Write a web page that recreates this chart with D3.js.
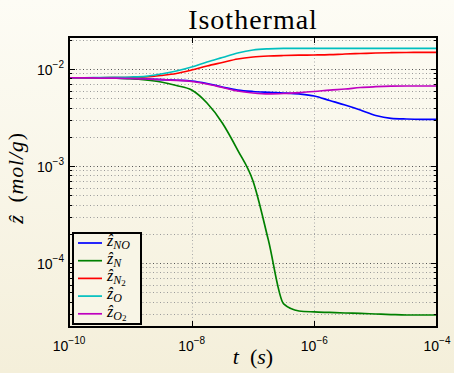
<!DOCTYPE html>
<html>
<head>
<meta charset="utf-8">
<script src="https://cdn.jsdelivr.net/npm/d3@7/dist/d3.min.js"></script>
<style>
  body { margin: 0; }
  svg { display: block; }
</style>
</head>
<body>
<div id="chart"></div>
<script>
// time samples, as powers of ten (s)
const tExp = [-10, -9.75, -9.5, -9.25, -9, -8.75, -8.5, -8.25, -8, -7.75, -7.5, -7.25,
              -7, -6.75, -6.5, -6.25, -6, -5.75, -5.5, -5.25, -5, -4.75, -4.5, -4.25, -4];

// mass-specific concentrations (mol/g)
const zNO = [8.13e-3, 8.11e-3, 8.07e-3, 8.04e-3, 7.98e-3, 7.89e-3, 7.79e-3, 7.66e-3, 7.52e-3, 7.09e-3, 6.52e-3, 6.07e-3,
             5.86e-3, 5.75e-3, 5.66e-3, 5.53e-3, 5.27e-3, 4.73e-3, 4.25e-3, 3.78e-3, 3.32e-3, 3.10e-3, 3.05e-3, 3.03e-3, 3.03e-3];
const zN  = [8.13e-3, 8.13e-3, 8.11e-3, 8.04e-3, 7.93e-3, 7.70e-3, 7.34e-3, 6.76e-3, 6.07e-3, 4.46e-3, 2.78e-3, 1.46e-3,
             7.0e-4, 1.73e-4, 3.78e-5, 3.20e-5, 3.13e-5, 3.09e-5, 3.05e-5, 3.02e-5, 2.98e-5, 2.94e-5, 2.91e-5, 2.91e-5, 2.91e-5];
const zN2 = [8.13e-3, 8.13e-3, 8.13e-3, 8.15e-3, 8.17e-3, 8.27e-3, 8.57e-3, 8.99e-3, 9.76e-3, 1.074e-2, 1.167e-2, 1.268e-2,
             1.330e-2, 1.362e-2, 1.378e-2, 1.388e-2, 1.394e-2, 1.404e-2, 1.428e-2, 1.445e-2, 1.462e-2, 1.472e-2, 1.479e-2, 1.482e-2, 1.486e-2];
const zO  = [8.13e-3, 8.13e-3, 8.15e-3, 8.20e-3, 8.27e-3, 8.41e-3, 8.88e-3, 9.54e-3, 1.048e-2, 1.181e-2, 1.314e-2, 1.462e-2,
             1.571e-2, 1.615e-2, 1.631e-2, 1.634e-2, 1.635e-2, 1.635e-2, 1.635e-2, 1.635e-2, 1.635e-2, 1.635e-2, 1.635e-2, 1.635e-2, 1.635e-2];
const zO2 = [8.13e-3, 8.11e-3, 8.07e-3, 8.04e-3, 7.98e-3, 7.89e-3, 7.79e-3, 7.65e-3, 7.43e-3, 7.00e-3, 6.45e-3, 5.93e-3,
             5.66e-3, 5.53e-3, 5.59e-3, 5.72e-3, 5.86e-3, 6.07e-3, 6.22e-3, 6.45e-3, 6.57e-3, 6.65e-3, 6.68e-3, 6.68e-3, 6.68e-3];

const seriesNames = ["NO", "N", "N2", "O", "O2"];
const seriesColors = ["#0000ff", "#008000", "#ff0000", "#00bfbf", "#bf00bf"];
const seriesValues = [zNO, zN, zN2, zO, zO2];

const xTickExp = [-10, -8, -6, -4];
const yTickExp = [-4, -3, -2];

const W = 454, H = 373;
const margin = { top: 37, right: 17, bottom: 46, left: 69 },
  width = W - margin.left - margin.right,
  height = H - margin.top - margin.bottom;

const root = d3.select("#chart").append("svg")
  .attr("width", W)
  .attr("height", H);

const grad = root.append("defs").append("linearGradient")
  .attr("id", "bg").attr("x1", 0).attr("y1", 0).attr("x2", 0).attr("y2", 1);
grad.append("stop").attr("offset", "0%").attr("stop-color", "#fdfcf5");
grad.append("stop").attr("offset", "100%").attr("stop-color", "#f4efda");
root.append("rect").attr("width", W).attr("height", H).attr("fill", "url(#bg)");

const svg = root.append("g")
  .attr("transform", "translate(" + margin.left + "," + margin.top + ")");

const x = d3.scaleLog()
  .domain([1e-10, 1e-4])
  .range([0, width]);

const y = d3.scaleLog()
  .domain([Math.pow(10, -4.66), Math.pow(10, -1.67)])
  .range([height, 0]);

// horizontal grid (every minor decade step)
const yGrid = [];
for (let k = -5; k <= -2; k++) {
  for (let m = 1; m <= 9; m++) {
    const v = m * Math.pow(10, k);
    if (v >= y.domain()[0] && v <= y.domain()[1]) yGrid.push({ v: v, major: m === 1 });
  }
}
svg.append("g").selectAll("line")
  .data(yGrid)
  .enter().append("line")
  .attr("x1", 0).attr("x2", width)
  .attr("y1", d => Math.round(y(d.v)) + 0.5)
  .attr("y2", d => Math.round(y(d.v)) + 0.5)
  .attr("stroke", d => d.major ? "#555" : "#9a9a9a")
  .attr("stroke-width", 1)
  .attr("stroke-dasharray", "1,2.5");

// vertical grid at major x ticks
svg.append("g").selectAll("line")
  .data(xTickExp.slice(1, -1))
  .enter().append("line")
  .attr("x1", d => Math.round(x(Math.pow(10, d))) + 0.5)
  .attr("x2", d => Math.round(x(Math.pow(10, d))) + 0.5)
  .attr("y1", 0).attr("y2", height)
  .attr("stroke", "#aaa")
  .attr("stroke-dasharray", "1,2.5");

// curves
const line = d3.line()
  .x((d, i) => x(Math.pow(10, tExp[i])))
  .y(d => y(d))
  .curve(d3.curveMonotoneX);

svg.append("g").selectAll("path")
  .data(seriesValues)
  .enter().append("path")
  .attr("fill", "none")
  .attr("stroke", (d, i) => seriesColors[i])
  .attr("stroke-width", 1.7)
  .attr("d", line);

// tick marks (inward, on all four sides)
const tk = svg.append("g").attr("stroke", "#000").attr("stroke-width", 1);
yGrid.forEach(d => {
  const yy = Math.round(y(d.v)) + 0.5;
  const len = d.major ? 6 : 3;
  tk.append("line").attr("x1", 0).attr("x2", len).attr("y1", yy).attr("y2", yy);
  tk.append("line").attr("x1", width - len).attr("x2", width).attr("y1", yy).attr("y2", yy);
});
xTickExp.forEach(e => {
  const xx = Math.round(x(Math.pow(10, e))) + 0.5;
  tk.append("line").attr("x1", xx).attr("x2", xx).attr("y1", height).attr("y2", height - 6);
  tk.append("line").attr("x1", xx).attr("x2", xx).attr("y1", 0).attr("y2", 6);
});

// axes box
svg.append("rect")
  .attr("x", 0).attr("y", 0)
  .attr("width", width).attr("height", height)
  .attr("fill", "none")
  .attr("stroke", "#000")
  .attr("stroke-width", 2);

// tick labels
const sans = "Liberation Sans, Arial, sans-serif";
yTickExp.forEach(e => {
  const t = svg.append("text")
    .attr("x", -5)
    .attr("y", y(Math.pow(10, e)) + 6)
    .attr("text-anchor", "end")
    .attr("font-family", sans)
    .attr("font-size", 14)
    .attr("fill", "#000");
  t.append("tspan").text("10");
  t.append("tspan").attr("dy", -7).attr("font-size", 10).text("\u2212" + (-e));
});
xTickExp.forEach(e => {
  const t = svg.append("text")
    .attr("x", x(Math.pow(10, e)))
    .attr("y", height + 24)
    .attr("text-anchor", "middle")
    .attr("font-family", sans)
    .attr("font-size", 14)
    .attr("fill", "#000");
  t.append("tspan").text("10");
  t.append("tspan").attr("dy", -7).attr("font-size", 10).text("\u2212" + (-e));
});

// title
const serif = "Liberation Serif, DejaVu Serif, serif";
svg.append("text")
  .attr("x", width / 2)
  .attr("y", -8)
  .attr("text-anchor", "middle")
  .attr("font-family", serif)
  .attr("font-size", 28)
  .attr("letter-spacing", 1)
  .attr("fill", "#000")
  .text("Isothermal");

// x label
const xl = svg.append("text")
  .attr("x", width / 2)
  .attr("y", height + 37)
  .attr("text-anchor", "middle")
  .attr("font-family", serif)
  .attr("font-size", 22)
  .attr("fill", "#000");
xl.append("tspan").attr("font-style", "italic").text("t");
xl.append("tspan").text("\u2002(");
xl.append("tspan").attr("font-style", "italic").text("s");
xl.append("tspan").text(")");

// y label
const yl = svg.append("text")
  .attr("transform", "translate(" + (-46) + "," + (height / 2 - 4) + ") rotate(-90)")
  .attr("text-anchor", "middle")
  .attr("font-family", serif)
  .attr("font-size", 22)
  .attr("letter-spacing", 0.8)
  .attr("fill", "#000");
yl.append("tspan").attr("font-style", "italic").text("\u1E91");
yl.append("tspan").text("\u2002(");
yl.append("tspan").attr("font-style", "italic").text("mol/g");
yl.append("tspan").text(")");

// legend
const lg = svg.append("g").attr("transform", "translate(4," + 196 + ")");
lg.append("rect")
  .attr("width", 68).attr("height", 91)
  .attr("fill", "#f8f5e6")
  .attr("stroke", "#000")
  .attr("stroke-width", 2);
const subs = [["NO"], ["N"], ["N", "2"], ["O"], ["O", "2"]];
seriesNames.forEach((n, i) => {
  const ly = 10 + i * 17.7;
  lg.append("line")
    .attr("x1", 5).attr("x2", 29)
    .attr("y1", ly).attr("y2", ly)
    .attr("stroke", seriesColors[i])
    .attr("stroke-width", 1.7);
  const t = lg.append("text")
    .attr("x", 34).attr("y", ly + 3)
    .attr("font-family", serif)
    .attr("font-size", 16)
    .attr("fill", "#000");
  t.append("tspan").attr("font-style", "italic").text("\u1E91");
  t.append("tspan").attr("font-style", "italic").attr("font-size", 12).attr("dy", 3).text(subs[i][0]);
  if (subs[i][1]) t.append("tspan").attr("font-size", 9).attr("dy", 1.5).text(subs[i][1]);
});
</script>
</body>
</html>
